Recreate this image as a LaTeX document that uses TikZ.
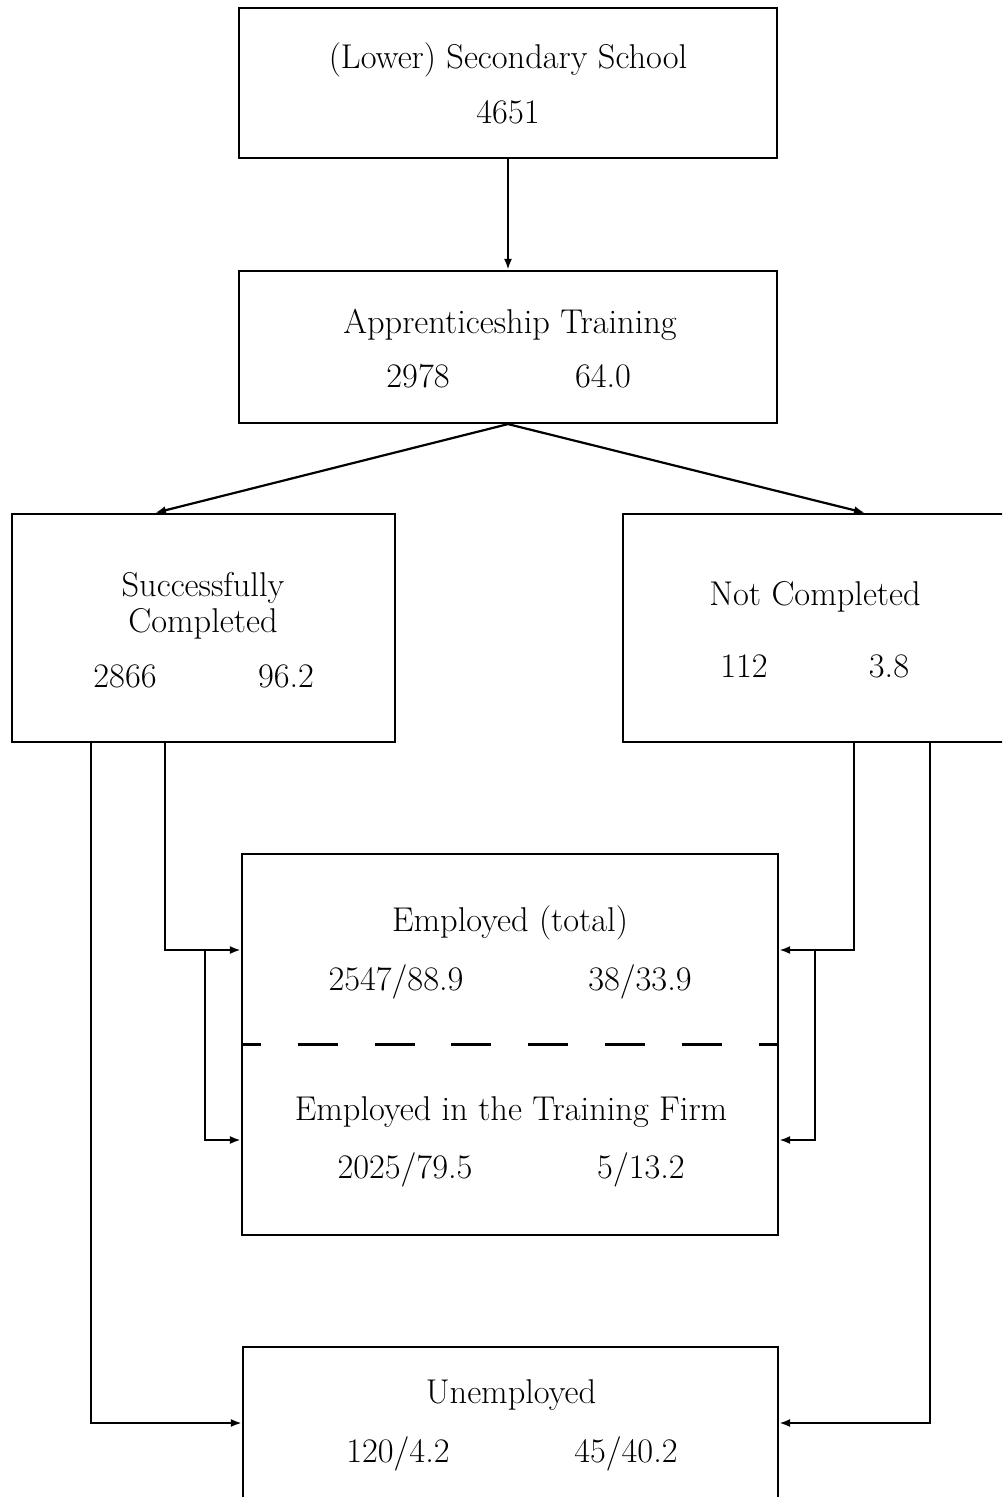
\documentclass[tikz,border=0pt]{standalone}
\usetikzlibrary{arrows.meta}
\newcommand{\boxfont}{\fontsize{17.2}{18}\selectfont}
\tikzset{
  flowbox/.style={draw, line width=1.1pt, inner sep=0pt},
  boxtext/.style={font=\boxfont, anchor=base, inner sep=0pt},
  flowline/.style={line width=1.1pt},
  flowarrow/.style={flowline, -{Latex[length=5.5pt,width=4pt]}},
}
\begin{document}
\begin{tikzpicture}[x=0.5pt, y=-0.5pt]
  \useasboundingbox (0,0) rectangle (1002,1497);
  \clip (0,0) rectangle (1002,1497);
  % boxes
  \node[flowbox, minimum width=269pt, minimum height=75pt] (school) at (508,83) {};
  \node[flowbox, minimum width=269pt, minimum height=76pt] (appr) at (508,347) {};
  \node[flowbox, minimum width=191.5pt, minimum height=114pt] (done) at (203.5,628) {};
  \node[flowbox, minimum width=191.5pt, minimum height=114pt] (notdone) at (814.5,628) {};
  \node[flowbox, minimum width=268pt, minimum height=190.5pt] (employed) at (510,1044.5) {};
  \node[flowbox, minimum width=267.5pt, minimum height=95pt] (unemployed) at (510.5,1442) {};
  % texts
  \node[boxtext] (schoolname) at (508,69) {(Lower) Secondary School};
  \node[boxtext] (schooln) at (508,124) {4651};
  \node[boxtext] (apprname) at (510,334) {Apprenticeship Training};
  \node[boxtext] (apprn) at (418,388) {2978};
  \node[boxtext] (apprp) at (603,388) {64.0};
  \node[font=\boxfont, align=center, inner sep=0pt] (donename) at (203,606) {Successfully\\Completed};
  \node[boxtext] (donen) at (125,687) {2866};
  \node[boxtext] (donep) at (286,687) {96.2};
  \node[boxtext] (notdonename) at (815,605) {Not Completed};
  \node[boxtext] (notdonen) at (744,677) {112};
  \node[boxtext] (notdonep) at (889,677) {3.8};
  \node[boxtext] (emptotal) at (510,931) {Employed (total)};
  \node[boxtext] (emptotall) at (396,990) {2547/88.9};
  \node[boxtext] (emptotalr) at (640,990) {38/33.9};
  \node[boxtext] (empfirm) at (511,1120) {Employed in the Training Firm};
  \node[boxtext] (empfirml) at (405,1178) {2025/79.5};
  \node[boxtext] (empfirmr) at (641,1178) {5/13.2};
  \node[boxtext] (unempname) at (511,1403) {Unemployed};
  \node[boxtext] (unempl) at (398,1462) {120/4.2};
  \node[boxtext] (unempr) at (626,1462) {45/40.2};
  % split of the employed box
  \draw[flowline, dash pattern=on 20pt off 18.4pt, dash phase=10pt] (employed.west) -- (employed.east);
  % connectors
  \coordinate (leftjoin) at (205,950);
  \coordinate (rightjoin) at (815,950);
  \draw[flowarrow] (school.south) -- (appr.north);
  \draw[flowarrow] (appr.south) -- ([xshift=-24.25pt]done.north);
  \draw[flowarrow] (appr.south) -- ([xshift=25.25pt]notdone.north);
  \draw[flowarrow] ([xshift=-19.25pt]done.south) |- ([yshift=47.25pt]employed.west);
  \draw[flowarrow] (leftjoin) |- ([yshift=-47.75pt]employed.west);
  \draw[flowarrow] ([xshift=-56.25pt]done.south) |- ([yshift=9.5pt]unemployed.west);
  \draw[flowarrow] ([xshift=19.75pt]notdone.south) |- ([yshift=47.25pt]employed.east);
  \draw[flowarrow] (rightjoin) |- ([yshift=-47.75pt]employed.east);
  \draw[flowarrow] ([xshift=57.75pt]notdone.south) |- ([yshift=9.5pt]unemployed.east);
\end{tikzpicture}
\end{document}
